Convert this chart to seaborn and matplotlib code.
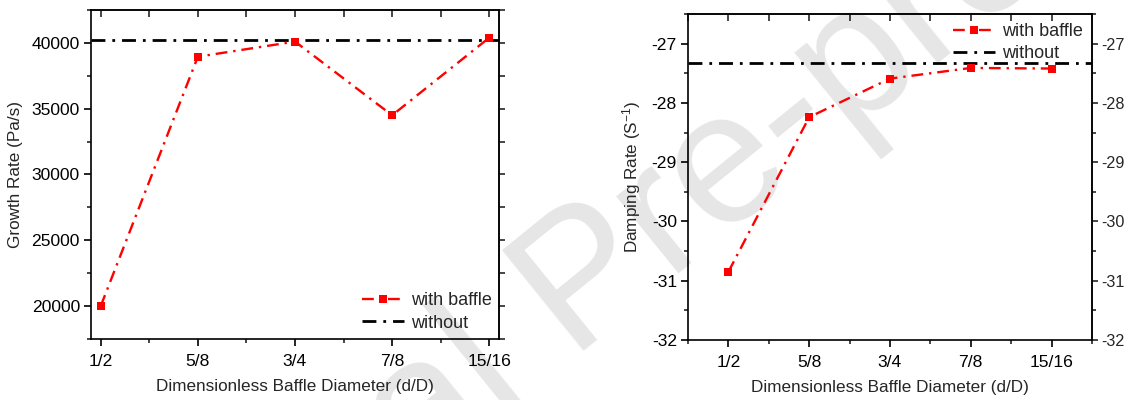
import matplotlib
matplotlib.use("Agg")
import matplotlib.pyplot as plt
from matplotlib.ticker import MultipleLocator, FixedLocator, NullFormatter
import numpy as np
import pandas as pd
import seaborn as sns

# Baffle diameter ratios (d/D)
diameters = ["1/2", "5/8", "3/4", "7/8", "15/16"]

# Pressure growth rate (Pa/s)
growth_with_baffle = [20000, 38950, 40100, 34500, 40400]
growth_without = 40200

# Damping rate (1/s)
damping_with_baffle = [-30.85, -28.24, -27.59, -27.41, -27.42]
damping_without = -27.33

sns.set_style("ticks")
plt.rcParams["font.family"] = ["Liberation Sans", "DejaVu Sans"]
plt.rcParams["mathtext.fontset"] = "custom"
plt.rcParams["mathtext.rm"] = "Liberation Sans"
plt.rcParams["mathtext.it"] = "Liberation Sans:italic"
plt.rcParams["axes.unicode_minus"] = False

TICK_FS = 12.6
LABEL_FS = 12.3
LEGEND_FS = 13
RED = "#ff0000"
DASHDOT = (0, (5, 2.5, 1, 2.5))

fig = plt.figure(figsize=(11.26, 4.0), dpi=100)

# watermark, drawn underneath the axes
fig.text(0.52, 0.285, "Journal Pre-proof", fontsize=135, color="#e6e6e6",
         rotation=39, rotation_mode="anchor", ha="center", va="center",
         zorder=-5)

ax1 = fig.add_axes([91 / 1126, 61 / 400, 408 / 1126, 329 / 400])
ax2 = fig.add_axes([688 / 1126, 60 / 400, 404 / 1126, 326 / 400])
for ax in (ax1, ax2):
    ax.patch.set_alpha(0)

pos = np.arange(len(diameters))


def style_axes(ax, xlim, ylim, ymajor, yminor, right_labels):
    ax.set_xlim(*xlim)
    ax.set_ylim(*ylim)
    ax.xaxis.set_major_locator(FixedLocator(pos))
    ax.set_xticklabels(diameters)
    ax.xaxis.set_minor_locator(MultipleLocator(0.5))
    ax.yaxis.set_major_locator(MultipleLocator(ymajor))
    ax.yaxis.set_minor_locator(MultipleLocator(yminor))
    for s in ax.spines.values():
        s.set_linewidth(1.2)
        s.set_color("black")
    ax.tick_params(axis="both", which="major", direction="out", length=5,
                   width=1.2, labelsize=TICK_FS, colors="black", top=False,
                   right=False)
    ax.tick_params(axis="both", which="minor", direction="out", length=3,
                   width=1.2, top=False, right=False)
    ax.tick_params(axis="x", which="major", pad=6)
    ax.tick_params(axis="y", which="major", pad=3)

    top = ax.secondary_xaxis("top")
    top.xaxis.set_major_locator(FixedLocator(pos))
    top.xaxis.set_minor_locator(MultipleLocator(0.5))
    top.tick_params(which="both", direction="in", length=5, width=1.2,
                    labeltop=False)
    top.spines["top"].set_linewidth(1.2)

    right = ax.secondary_yaxis("right")
    right.yaxis.set_major_locator(MultipleLocator(ymajor))
    right.yaxis.set_minor_locator(MultipleLocator(yminor))
    if right_labels:
        right.tick_params(which="major", direction="out", length=4,
                          width=1.2, labelsize=TICK_FS - 1, pad=3)
        right.tick_params(which="minor", direction="out", length=3,
                          width=1.2)
    else:
        right.tick_params(which="both", direction="out", length=4,
                          width=1.2, labelright=False)
        right.yaxis.set_major_formatter(NullFormatter())
    right.spines["right"].set_linewidth(1.2)


# ---- left: growth rate ----
df1 = pd.DataFrame({"pos": pos, "rate": growth_with_baffle})
sns.lineplot(data=df1, x="pos", y="rate", ax=ax1, color=RED, lw=1.7,
             linestyle=DASHDOT, marker="s", markersize=5.5,
             markeredgewidth=0, label="with baffle", zorder=3)
ax1.axhline(growth_without, color="black", lw=2.0, linestyle=DASHDOT,
            label="without", zorder=2)
style_axes(ax1, (-0.1, 4.1), (17500, 42500), 5000, 2500, False)
ax1.set_xlabel("Dimensionless Baffle Diameter (d/D)", fontsize=LABEL_FS,
               labelpad=7)
ax1.set_ylabel("Growth Rate (Pa/s)", fontsize=LABEL_FS, labelpad=6)
ax1.legend(loc="lower right", frameon=False, fontsize=LEGEND_FS,
           handlelength=2.3, handletextpad=0.4, borderaxespad=0.2,
           labelspacing=0.3, borderpad=0.2)

# ---- right: damping rate ----
df2 = pd.DataFrame({"pos": pos, "rate": damping_with_baffle})
sns.lineplot(data=df2, x="pos", y="rate", ax=ax2, color=RED, lw=1.7,
             linestyle=DASHDOT, marker="s", markersize=5.5,
             markeredgewidth=0, label="with baffle", zorder=3)
ax2.axhline(damping_without, color="black", lw=2.0, linestyle=DASHDOT,
            label="without", zorder=2)
style_axes(ax2, (-0.5, 4.5), (-32, -26.5), 1, 0.5, True)
ax2.set_xlabel("Dimensionless Baffle Diameter (d/D)", fontsize=LABEL_FS,
               labelpad=7)
ax2.set_ylabel("Damping Rate (S$^{-1}$)", fontsize=LABEL_FS, labelpad=6)
ax2.legend(loc="upper right", frameon=False, fontsize=LEGEND_FS,
           handlelength=2.3, handletextpad=0.4, borderaxespad=0.3,
           labelspacing=0.3, borderpad=0.2)

fig.savefig("out.png", dpi=100)
